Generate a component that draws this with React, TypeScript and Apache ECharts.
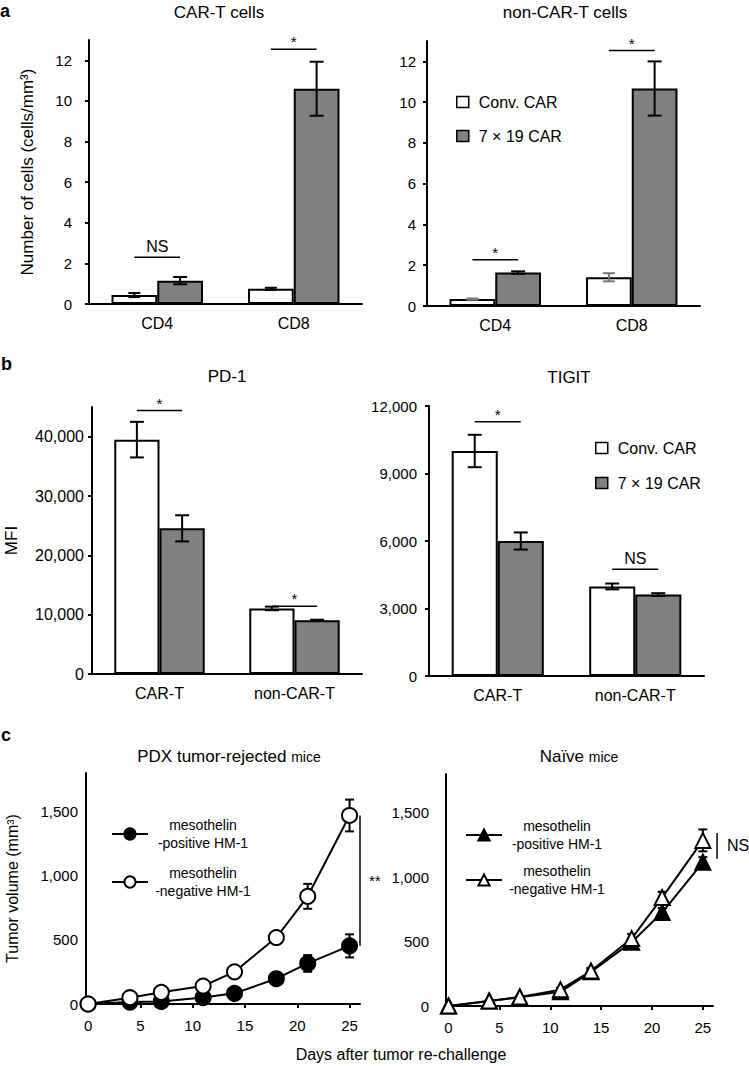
import React, { useEffect, useRef } from "react";
import * as echarts from "echarts";

// ---------- data ----------
const cellCats = ["CD4", "CD8"];
const carTConv = [0.44, 0.75];
const carTConvErr = [0.1, 0.05];
const carT719 = [1.15, 10.6];
const carT719Err = [0.18, 1.33];
const carTSigY = [2.3, 12.55];
const carTSigText = ["NS", "*"];

const nonCarTConv = [0.34, 1.41];
const nonCarTConvErr = [0.03, 0.2];
const nonCarT719 = [1.64, 10.67];
const nonCarT719Err = [0.06, 1.33];
const nonCarTSigY = [2.27, 12.53];
const nonCarTSigText = ["*", "*"];

const cellTicks = [0, 2, 4, 6, 8, 10, 12];

const mfiCats = ["CAR-T", "non-CAR-T"];
const pd1Conv = [39500, 11050];
const pd1ConvErr = [3000, 300];
const pd1719 = [24550, 9050];
const pd1719Err = [2200, 100];
const pd1SigY = [44400, 11400];
const pd1SigText = ["*", "*"];
const pd1Ticks = [0, 10000, 20000, 30000, 40000];

const tigitConv = [10000, 3980];
const tigitConvErr = [720, 130];
const tigit719 = [6000, 3620];
const tigit719Err = [380, 60];
const tigitSigY = [11300, 4750];
const tigitSigText = ["*", "NS"];
const tigitTicks = [0, 3000, 6000, 9000, 12000];

const days = [0, 4, 7, 11, 14, 18, 21, 25];
const dayTicks = [0, 5, 10, 15, 20, 25];
const volTicks = [0, 500, 1000, 1500];
const pdxPos = [0, 15, 20, 50, 83, 197, 316, 453];
const pdxPosErr = [0, 5, 5, 8, 10, 20, 65, 90];
const pdxNeg = [0, 49, 91, 140, 251, 518, 839, 1469];
const pdxNegErr = [0, 5, 8, 10, 15, 25, 97, 124];
const pdxBracket = [26, 1469, 453];
const pdxBracketText = "**";

const naivePos = [0, 38, 68, 110, 265, 495, 725, 1115];
const naivePosErr = [0, 5, 8, 10, 20, 30, 35, 40];
const naiveNeg = [0, 39, 70, 127, 271, 523, 841, 1285];
const naiveNegErr = [0, 5, 8, 15, 25, 35, 45, 85];
const naiveBracket = [26.4, 1342, 1143];
const naiveBracketText = "NS";

const legendBarNames = ["Conv. CAR", "7 × 19 CAR"];
const legendLineLabels: Record<string, string[]> = {
  pdxPos: ["mesothelin", "-positive HM-1"],
  pdxNeg: ["mesothelin", "-negative HM-1"],
  naivePos: ["mesothelin", "-positive HM-1"],
  naiveNeg: ["mesothelin", "-negative HM-1"],
};

// ---------- style ----------
const FONT = "Liberation Sans, Arial, Helvetica, sans-serif";
const GAP = 0.33;
const GRAY = "#808080";

const fmt = (v: number) => Number(v).toLocaleString("en-US");

function barSeries(gi: number, conv: number[], c719: number[]) {
  const common = {
    type: "bar",
    xAxisIndex: gi,
    yAxisIndex: gi,
    barGap: "0%",
    barCategoryGap: "33%",
    z: 2,
  };
  return [
    {
      ...common,
      name: legendBarNames[0],
      data: conv,
      itemStyle: { color: "#fff", borderColor: "#000", borderWidth: 2 },
    },
    {
      ...common,
      name: legendBarNames[1],
      data: c719,
      itemStyle: { color: GRAY, borderColor: "#000", borderWidth: 2 },
    },
  ];
}

function barErr(gi: number, means: number[], errs: number[], side: number, color: string, cap: number) {
  return {
    type: "custom",
    xAxisIndex: gi,
    yAxisIndex: gi,
    z: 5,
    silent: true,
    data: means.map((m, i) => [i, m, errs[i]]),
    renderItem: (params: any, api: any) => {
      const ci = api.value(0);
      const m = api.value(1);
      const e = api.value(2);
      const band = api.size([1, 0])[0];
      const bw = (band * (1 - GAP)) / 2;
      const cx = api.coord([ci, m])[0] + (side * bw) / 2;
      const yt = api.coord([ci, m + e])[1];
      const yb = api.coord([ci, m - e])[1];
      const st = { stroke: color, lineWidth: 2 };
      return {
        type: "group",
        children: [
          { type: "line", shape: { x1: cx, y1: yt, x2: cx, y2: yb }, style: st },
          { type: "line", shape: { x1: cx - cap, y1: yt, x2: cx + cap, y2: yt }, style: st },
          { type: "line", shape: { x1: cx - cap, y1: yb, x2: cx + cap, y2: yb }, style: st },
        ],
      };
    },
  };
}

function sigSeries(gi: number, ys: number[], texts: string[]) {
  return {
    type: "custom",
    xAxisIndex: gi,
    yAxisIndex: gi,
    z: 6,
    silent: true,
    data: ys.map((y, i) => [i, y]),
    renderItem: (params: any, api: any) => {
      const ci = api.value(0);
      const y = api.value(1);
      const band = api.size([1, 0])[0];
      const bw = (band * (1 - GAP)) / 2;
      const p = api.coord([ci, y]);
      const t = texts[params.dataIndex];
      const isStar = t.indexOf("*") >= 0;
      return {
        type: "group",
        children: [
          {
            type: "line",
            shape: { x1: p[0] - bw / 2, y1: p[1], x2: p[0] + bw / 2, y2: p[1] },
            style: { stroke: "#000", lineWidth: 1.5 },
          },
          {
            type: "text",
            x: p[0],
            y: p[1] - (isStar ? 0 : 3),
            style: {
              text: t,
              fontSize: isStar ? 15 : 16,
              fontFamily: FONT,
              fill: "#000",
              align: "center",
              verticalAlign: "bottom",
            },
          },
        ],
      };
    },
  };
}

function lineSeries(gi: number, name: string, vals: number[], symbol: string, filled: boolean, size: number, z: number) {
  return {
    type: "line",
    name,
    xAxisIndex: gi,
    yAxisIndex: gi,
    data: days.map((d, i) => [d, vals[i]]),
    symbol,
    symbolSize: size,
    showSymbol: true,
    showAllSymbol: true,
    clip: false,
    z,
    lineStyle: { color: "#000", width: 2 },
    itemStyle: { color: filled ? "#000" : "#fff", borderColor: "#000", borderWidth: 2 },
  };
}

function lineErr(gi: number, vals: number[], errs: number[]) {
  return {
    type: "custom",
    xAxisIndex: gi,
    yAxisIndex: gi,
    z: 1,
    silent: true,
    data: days.map((d, i) => [d, vals[i], errs[i]]),
    renderItem: (params: any, api: any) => {
      const x = api.value(0);
      const m = api.value(1);
      const e = api.value(2);
      const pt = api.coord([x, m + e]);
      const pb = api.coord([x, m - e]);
      const st = { stroke: "#000", lineWidth: 2 };
      const cap = 4.5;
      return {
        type: "group",
        children: [
          { type: "line", shape: { x1: pt[0], y1: pt[1], x2: pb[0], y2: pb[1] }, style: st },
          { type: "line", shape: { x1: pt[0] - cap, y1: pt[1], x2: pt[0] + cap, y2: pt[1] }, style: st },
          { type: "line", shape: { x1: pb[0] - cap, y1: pb[1], x2: pb[0] + cap, y2: pb[1] }, style: st },
        ],
      };
    },
  };
}

function bracketSeries(gi: number, b: number[], text: string, fontSize: number, gap: number) {
  return {
    type: "custom",
    xAxisIndex: gi,
    yAxisIndex: gi,
    z: 6,
    silent: true,
    clip: false,
    data: [b],
    renderItem: (params: any, api: any) => {
      const p1 = api.coord([api.value(0), api.value(1)]);
      const p2 = api.coord([api.value(0), api.value(2)]);
      return {
        type: "group",
        children: [
          { type: "line", shape: { x1: p1[0], y1: p1[1], x2: p2[0], y2: p2[1] }, style: { stroke: "#000", lineWidth: 1.5 } },
          {
            type: "text",
            x: p1[0] + gap,
            y: (p1[1] + p2[1]) / 2,
            style: { text, fontSize, fontFamily: FONT, fill: "#000", align: "left", verticalAlign: "middle" },
          },
        ],
      };
    },
  };
}

const axisLine = { show: true, onZero: false, lineStyle: { color: "#000", width: 2 } };

function catX(gi: number, cats: string[]) {
  return {
    type: "category",
    gridIndex: gi,
    data: cats,
    axisLine,
    axisTick: { show: false },
    axisLabel: { fontSize: 16, color: "#000", margin: 11, fontFamily: FONT },
  };
}

function valY(gi: number, max: number, ticks: number[], margin: number, fontSize: number, showTick: boolean, name?: string, nameGap?: number, nameSize?: number) {
  return {
    type: "value",
    gridIndex: gi,
    min: 0,
    max,
    axisLine,
    splitLine: { show: false },
    axisTick: { show: showTick, length: 4, lineStyle: { color: "#000", width: 2 }, customValues: ticks },
    axisLabel: { customValues: ticks, fontSize, color: "#000", margin, fontFamily: FONT, formatter: fmt },
    name: name || "",
    nameLocation: "middle",
    nameGap: nameGap || 0,
    nameTextStyle: { fontSize: nameSize || 17, color: "#000", fontFamily: FONT },
  };
}

function dayX(gi: number, min: number) {
  return {
    type: "value",
    gridIndex: gi,
    min,
    max: 26,
    axisLine,
    splitLine: { show: false },
    axisTick: { show: true, length: 4, lineStyle: { color: "#000", width: 2 }, customValues: dayTicks },
    axisLabel: { customValues: dayTicks, fontSize: 15, color: "#000", margin: 14, fontFamily: FONT },
  };
}

function title(text: string, cx: number, top: number, fontSize = 17, rich?: any, bold = false, align = "center") {
  return {
    text,
    left: cx,
    top,
    textAlign: align,
    padding: 0,
    textStyle: { fontSize, fontWeight: bold ? "bold" : "normal", color: "#000", fontFamily: FONT, rich },
  };
}

const lineLegendFormatter = (name: string) =>
  (legendLineLabels[name] || [name]).map((s) => `{t|${s}}`).join("\n");

function lineLegend(names: string[], left: number, top: number, gap: number) {
  return {
    data: names,
    orient: "vertical",
    left,
    top,
    padding: 0,
    itemWidth: 36,
    itemHeight: 14,
    itemGap: gap,
    selectedMode: false,
    formatter: lineLegendFormatter,
    textStyle: {
      fontFamily: FONT,
      color: "#000",
      rich: { t: { width: 100, align: "center", fontSize: 14, lineHeight: 18, fontFamily: FONT, color: "#000" } },
    },
  };
}

function barLegend(left: number, top: number, gap: number) {
  return {
    data: legendBarNames,
    orient: "vertical",
    left,
    top,
    padding: 0,
    icon: "rect",
    itemWidth: 12,
    itemHeight: 11,
    itemGap: gap,
    selectedMode: false,
    itemStyle: { borderColor: "#000", borderWidth: 1.5 },
    textStyle: { fontSize: 16, color: "#000", fontFamily: FONT, padding: [0, 0, 0, 5] },
  };
}

export default function App() {
  const ref = useRef<HTMLDivElement>(null);
  useEffect(() => {
    document.body.style.margin = "0";
    if (!ref.current) return;
    const chart = echarts.init(ref.current, null, { renderer: "svg" });
    const subRich = { s: { fontSize: 14, fontFamily: FONT, color: "#000" } };
    const option = {
      animation: false,
      backgroundColor: "#fff",
      textStyle: { fontFamily: FONT },
      title: [
        title("a", 0, 2, 18, undefined, true, "left"),
        title("CAR-T cells", 219, 4),
        title("non-CAR-T cells", 565, 4),
        title("b", 1, 355, 18, undefined, true, "left"),
        title("PD-1", 227, 368),
        title("TIGIT", 569, 369),
        title("c", 1, 726, 18, undefined, true, "left"),
        title("PDX tumor-rejected {s|mice}", 229, 748, 17, subRich),
        title("Naïve {s|mice}", 579, 748, 17, subRich),
        title("Days after tumor re-challenge", 401, 1046, 16),
      ],
      grid: [
        { left: 89, top: 40, width: 273, height: 264 },
        { left: 427, top: 41, width: 273, height: 265 },
        { left: 92, top: 407, width: 270, height: 267 },
        { left: 429, top: 406, width: 275, height: 270 },
        { left: 86, top: 773, width: 274, height: 231 },
        { left: 446, top: 774, width: 267, height: 232 },
      ],
      xAxis: [
        catX(0, cellCats),
        catX(1, cellCats),
        catX(2, mfiCats),
        catX(3, mfiCats),
        dayX(4, -0.2),
        dayX(5, -0.25),
      ],
      yAxis: [
        valY(0, 13, cellTicks, 17, 15, true, "Number of cells (cells/mm³)", 53, 17),
        valY(1, 13, cellTicks, 11, 15, true),
        valY(2, 45000, pd1Ticks, 8, 16, true, "MFI", 72, 17),
        valY(3, 12000, tigitTicks, 12, 15, true),
        valY(4, 1800, volTicks, 8, 15, false, "Tumor volume (mm³)", 66, 16),
        valY(5, 1800, volTicks, 17, 15, false),
      ],
      legend: [
        barLegend(456, 94, 18),
        barLegend(595, 440, 19),
        lineLegend(["pdxPos", "pdxNeg"], 111, 818, 16),
        lineLegend(["naivePos", "naiveNeg"], 465, 819, 13),
      ],
      series: [
        ...barSeries(0, carTConv, carT719),
        barErr(0, carTConv, carTConvErr, -1, "#000", 6),
        barErr(0, carT719, carT719Err, 1, "#000", 7),
        sigSeries(0, carTSigY, carTSigText),

        ...barSeries(1, nonCarTConv, nonCarT719),
        barErr(1, nonCarTConv, nonCarTConvErr, -1, "#777", 6),
        barErr(1, nonCarT719, nonCarT719Err, 1, "#000", 7),
        sigSeries(1, nonCarTSigY, nonCarTSigText),

        ...barSeries(2, pd1Conv, pd1719),
        barErr(2, pd1Conv, pd1ConvErr, -1, "#000", 7),
        barErr(2, pd1719, pd1719Err, 1, "#000", 7),
        sigSeries(2, pd1SigY, pd1SigText),

        ...barSeries(3, tigitConv, tigit719),
        barErr(3, tigitConv, tigitConvErr, -1, "#000", 7),
        barErr(3, tigit719, tigit719Err, 1, "#000", 7),
        sigSeries(3, tigitSigY, tigitSigText),

        lineErr(4, pdxPos, pdxPosErr),
        lineErr(4, pdxNeg, pdxNegErr),
        lineSeries(4, "pdxPos", pdxPos, "circle", true, 15, 3),
        lineSeries(4, "pdxNeg", pdxNeg, "circle", false, 15, 4),
        bracketSeries(4, pdxBracket, pdxBracketText, 15, 9),

        lineErr(5, naivePos, naivePosErr),
        lineErr(5, naiveNeg, naiveNegErr),
        lineSeries(5, "naivePos", naivePos, "triangle", true, 15, 3),
        lineSeries(5, "naiveNeg", naiveNeg, "triangle", false, 15, 4),
        bracketSeries(5, naiveBracket, naiveBracketText, 16, 10),
      ],
    };
    chart.setOption(option as any);
    return () => chart.dispose();
  }, []);
  return <div ref={ref} style={{ width: 749, height: 1066 }} />;
}
